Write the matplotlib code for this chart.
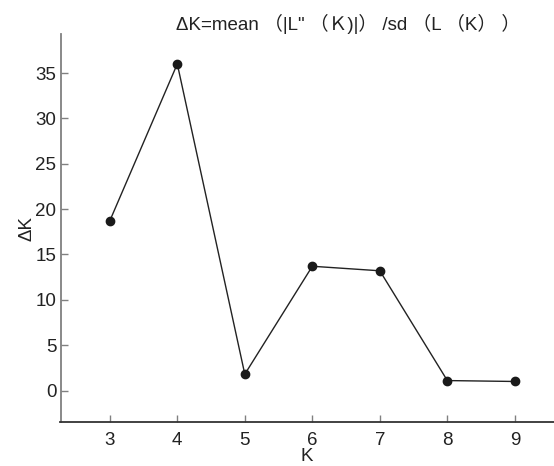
import matplotlib
matplotlib.use("Agg")
import matplotlib.pyplot as plt

plt.rcParams['font.family'] = ['Liberation Sans', 'Noto Sans CJK SC', 'DejaVu Sans']

# Data
k_values = [3, 4, 5, 6, 7, 8, 9]
delta_k = [18.7, 36.0, 1.8, 13.7, 13.2, 1.1, 1.0]
y_ticks = [0, 5, 10, 15, 20, 25, 30, 35]
title_text = 'ΔK=mean （|L" （Ｋ)|） /sd （L （K） ）'

W, H = 554, 466
fig = plt.figure(figsize=(W / 100, H / 100), dpi=100)
ax = fig.add_axes([60.5 / W, (H - 422.3) / H, (W - 60.5) / W, (422.3 - 34) / H])

ax.plot(k_values, delta_k, color='#222222', linewidth=1.0,
        marker='o', markersize=6, markerfacecolor='#1a1a1a', markeredgecolor='#1a1a1a')

ax.set_xlim(2.27, 9.58)
ax.set_ylim(-3.5, 39.3)
ax.set_xticks(k_values)
ax.set_yticks(y_ticks)

for side in ['top', 'right']:
    ax.spines[side].set_visible(False)
ax.spines['left'].set_color('#808080')
ax.spines['left'].set_linewidth(1.3)
ax.spines['bottom'].set_color('#333333')
ax.spines['bottom'].set_linewidth(1.3)

ax.tick_params(axis='both', direction='in', length=5, width=1.0, color='#808080',
               labelsize=13.5, labelcolor='#222222')
ax.tick_params(axis='x', pad=7)
ax.tick_params(axis='y', pad=3)

ax.set_xlabel('K', fontsize=13.5, color='#222222', labelpad=-1)
ax.set_ylabel('ΔK', fontsize=13.5, color='#222222', labelpad=0)

fig.text(348 / W, 1 - 24 / H, title_text, ha='center', va='center',
         fontsize=13.5, color='#222222')

fig.savefig('out.png', dpi=100)
